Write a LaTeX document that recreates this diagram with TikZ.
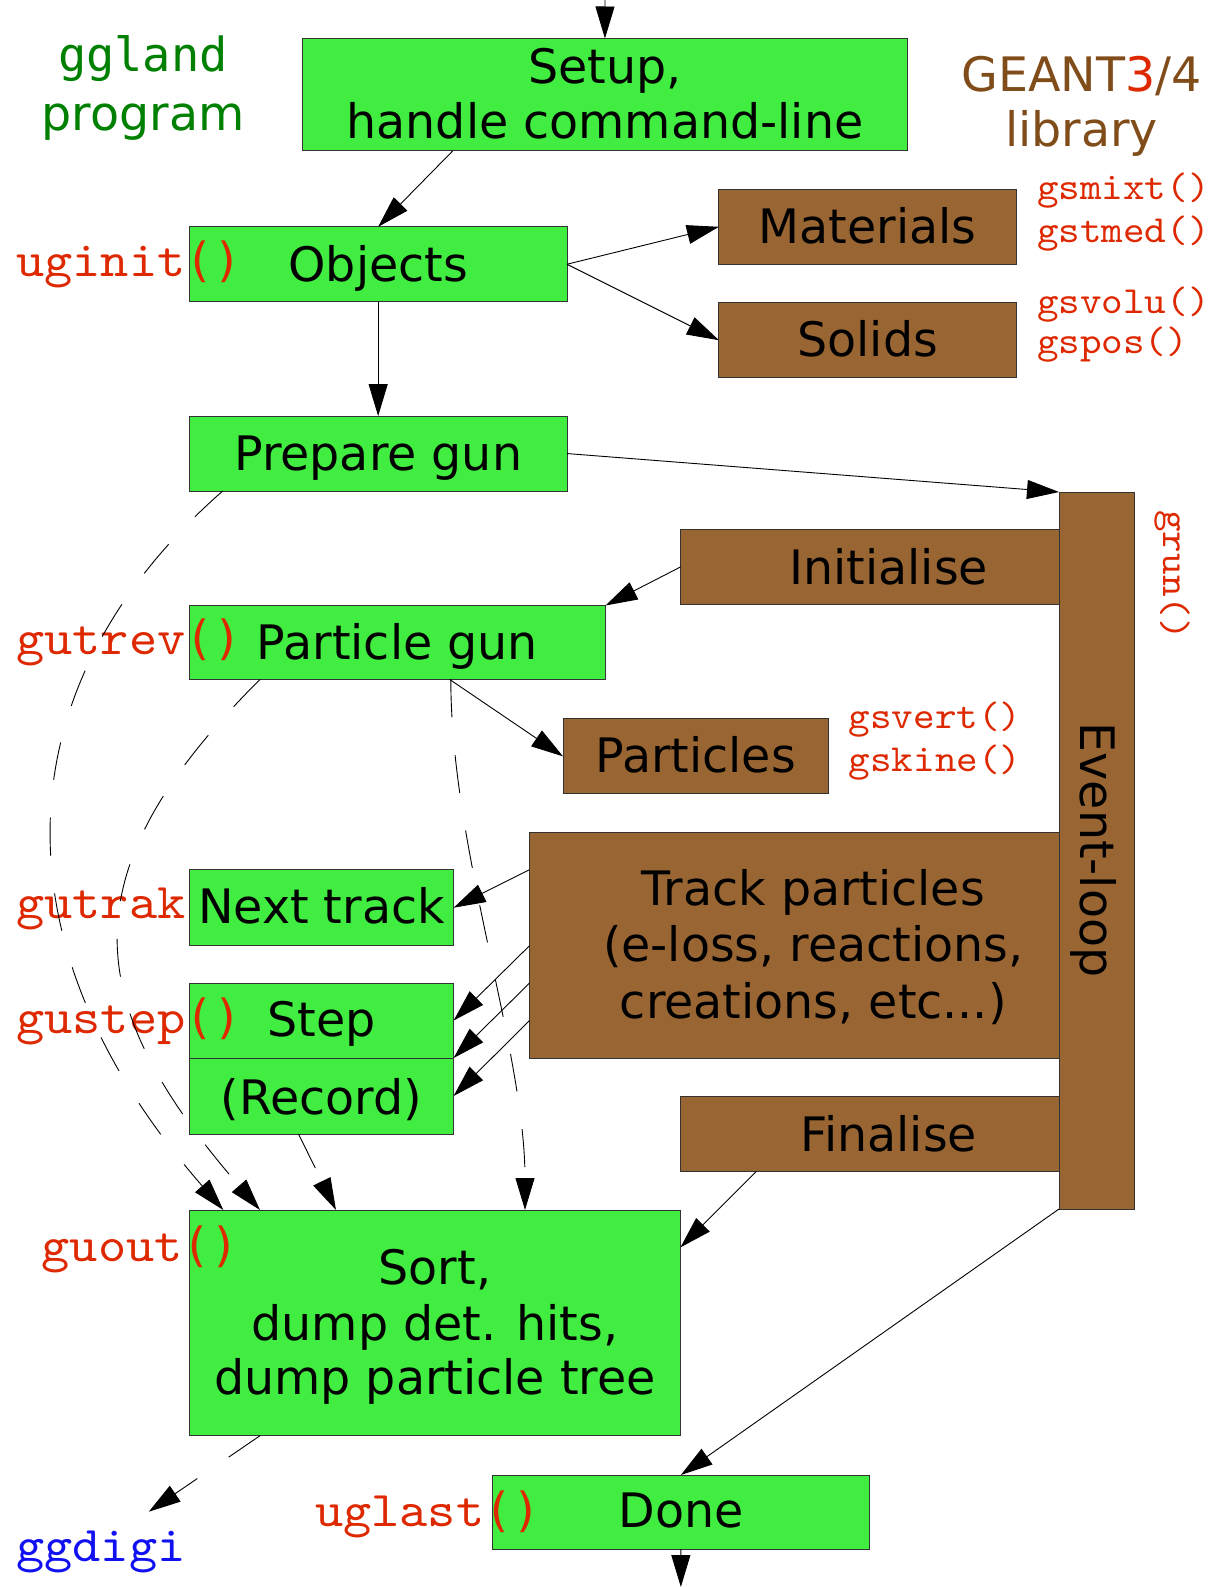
\documentclass[tikz,border=0pt]{standalone}
\usepackage{fontspec}
\usetikzlibrary{arrows.meta,calc}
\newfontfamily\sansf{DejaVu Sans}
\newfontfamily\smono{DejaVu Sans Mono}
\newfontfamily\cmono{lmmono10-regular.otf}[FakeStretch=1.074]
\definecolor{boxgreen}{RGB}{64,237,64}
\definecolor{boxbrown}{RGB}{153,102,51}
\definecolor{fnred}{RGB}{221,40,0}
\definecolor{prggreen}{RGB}{0,128,0}
\definecolor{libbrown}{RGB}{128,77,26}
\definecolor{digiblue}{RGB}{16,16,240}
\newcommand\mkbox[6]{\node[#1, minimum width={#5pt-#3pt}, minimum height={#6pt-#4pt}] (#2) at ({(#3+#5)/2},{(#4+#6)/2}) {};}
\tikzset{
  boxbase/.style={draw=black!80, line width=1pt, inner sep=0pt, outer sep=0pt, rectangle},
  gbox/.style={boxbase, fill=boxgreen},
  bbox/.style={boxbase, fill=boxbrown},
  txt/.style={inner sep=0pt, font=\sansf\fontsize{47.5}{56}\selectfont},
  fn/.style={inner sep=0pt, font=\cmono\fontsize{50}{56}\selectfont, text=fnred},
  fns/.style={inner sep=0pt, font=\cmono\fontsize{38.3}{44}\selectfont, text=fnred},
  arr/.style={-{Triangle[length=32pt,width=19pt]}, line width=0.9pt},
  darr/.style={arr, dash pattern=on 38pt off 38pt},
}
\begin{document}
\begin{tikzpicture}[x=1pt,y=-1pt]
\useasboundingbox (0,0) rectangle (1218,1587);
% boxes
\mkbox{gbox}{setup}{302.7}{38.5}{907.2}{150.9}
\mkbox{gbox}{objects}{189.3}{226.8}{567}{301.7}
\mkbox{bbox}{materials}{718.9}{189.3}{1016.5}{264.3}
\mkbox{bbox}{solids}{718.9}{302.7}{1016.5}{377.7}
\mkbox{gbox}{prep}{189.3}{416.1}{567}{491}
\mkbox{bbox}{init}{680.4}{529.5}{1097}{604.5}
\mkbox{gbox}{pgun}{189.3}{605.5}{605.5}{679.4}
\mkbox{bbox}{particles}{563}{718.9}{828.2}{793.8}
\mkbox{bbox}{track}{529.5}{832.3}{1097}{1058}
\mkbox{gbox}{next}{189.3}{869.7}{453.6}{945.7}
\mkbox{gbox}{step}{189.3}{983.1}{453.6}{1058}
\mkbox{gbox}{record}{189.3}{1058}{453.6}{1134}
\mkbox{bbox}{final}{680.4}{1096.5}{1097}{1171.5}
\mkbox{bbox}{event}{1059}{492}{1134}{1209}
\mkbox{gbox}{sort}{189.3}{1210}{680.4}{1435.7}
\mkbox{gbox}{done}{492}{1475}{869.7}{1549}
% box texts
\node[txt, anchor=base] (tsetup1) at (605,83.3) {Setup,};
\node[txt, anchor=base] (tsetup2) at (605,138.3) {handle command-line};
\node[txt, anchor=base] (tobj) at (378.2,281.7) {Objects};
\node[txt, anchor=base] (tmat) at (867.7,243.3) {Materials};
\node[txt, anchor=base] (tsol) at (867.7,356.7) {Solids};
\node[txt, anchor=base] (tprep) at (378.2,470.5) {Prepare gun};
\node[txt, anchor=base] (tinit) at (888.7,584) {Initialise};
\node[txt, anchor=base] (tpgun) at (397.4,659.3) {Particle gun};
\node[txt, anchor=base] (tpart) at (695.6,772.7) {Particles};
\node[txt, anchor=base] (ttrack1) at (813.3,905) {Track particles};
\node[txt, anchor=base] (ttrack2) at (813.3,961.7) {(e-loss, reactions,};
\node[txt, anchor=base] (ttrack3) at (813.3,1018.4) {creations, etc...)};
\node[txt, anchor=base] (tnext) at (321.5,923.3) {Next track};
\node[txt, anchor=base] (tstep) at (321.5,1036) {Step};
\node[txt, anchor=base] (trec) at (321.5,1114) {(Record)};
\node[txt, anchor=base] (tfin) at (888.7,1151) {Finalise};
\node[txt, anchor=base] (tsort1) at (434.9,1284) {Sort,};
\node[txt, anchor=base] (tsort2) at (434.9,1340) {dump det. hits,};
\node[txt, anchor=base] (tsort3) at (434.9,1394) {dump particle tree};
\node[txt, anchor=base] (tdone) at (680.9,1527.7) {Done};
\node[txt, anchor=base, rotate=-90] (tevent) at (1080,850) {Event-loop};
% side labels
\node[inner sep=0pt, font=\smono\fontsize{47}{56}\selectfont, text=prggreen, anchor=base] (lggland) at (143,71) {ggland};
\node[txt, text=prggreen, anchor=base] (lprog) at (143,130) {program};
\node[txt, text=libbrown, anchor=base] (lgeant) at (1081.5,91.7) {GEANT{\color{fnred}3}/4};
\node[txt, text=libbrown, anchor=base] (llib) at (1081.5,146.7) {library};
\node[fn, anchor=base west] (luginit) at (16.2,276.7) {uginit{\smono\fontsize{47}{56}\selectfont()}};
\node[fn, anchor=base west] (lgutrev) at (16.2,654) {gutrev{\smono\fontsize{47}{56}\selectfont()}};
\node[fn, anchor=base west] (lgutrak) at (16.2,918.3) {gutrak};
\node[fn, anchor=base west] (lgustep) at (16.2,1033.3) {gustep{\smono\fontsize{47}{56}\selectfont()}};
\node[fn, anchor=base west] (lguout) at (41.5,1261) {guout{\smono\fontsize{47}{56}\selectfont()}};
\node[fn, anchor=base west] (luglast) at (315,1526) {uglast{\smono\fontsize{47}{56}\selectfont()}};
\node[fn, anchor=base west, text=digiblue] (lggdigi) at (16.2,1561.8) {ggdigi};
\node[fns, anchor=base west] (lgsmixt) at (1036.8,199.3) {gsmixt()};
\node[fns, anchor=base west] (lgstmed) at (1036.8,242.7) {gstmed()};
\node[fns, anchor=base west] (lgsvolu) at (1036.8,313.3) {gsvolu()};
\node[fns, anchor=base west] (lgspos) at (1036.8,353.3) {gspos()};
\node[fns, anchor=base west] (lgsvert) at (848.5,728.3) {gsvert()};
\node[fns, anchor=base west] (lgskine) at (848.5,771.7) {gskine()};
\node[fns, anchor=base, rotate=-90] (lgrun) at (1163,575) {grun()};
% free ends
\coordinate (topin) at (605,0);
\coordinate (botout) at (680.85,1587);
\coordinate (gdigi) at (148.8,1511.7);
% solid connectors
\draw[arr] (topin) -- (setup.north);
\draw[arr] ([xshift=150pt]setup.south west) -- (objects.north);
\draw[arr] (objects.east) -- (materials.west);
\draw[arr] (objects.east) -- (solids.west);
\draw[arr] (objects.south) -- (prep.north);
\draw[arr] (prep.east) -- (event.north west);
\draw[arr] (init.west) -- (pgun.north east);
\draw[arr] ([xshift=260.3pt]pgun.south west) -- (particles.west);
\draw[arr] ([yshift=-37.4pt]track.north west) -- (next.east);
\draw[arr] ([yshift=-113.4pt]track.north west) -- (step.east);
\draw[arr] ([yshift=-150.8pt]track.north west) -- (step.south east);
\draw[arr] ([yshift=-188.3pt]track.north west) -- (record.east);
\draw[arr] ([xshift=75.9pt]final.south west) -- ([yshift=-37.4pt]sort.north east);
\draw[arr] (event.south west) -- (done.north);
\draw[arr] (done.south) -- (botout);
% dashed connectors
\draw[darr] ([xshift=33.4pt]prep.south west) .. controls (-4,690) and (-4,950) .. ([xshift=34pt]sort.north west);
\draw[darr] ([xshift=70.7pt]pgun.south west) .. controls (68,871) and (78,1000) .. ([xshift=70.7pt]sort.north west);
\draw[darr] ([xshift=261.5pt]pgun.south west) .. controls (451,850) and (525,1050) .. ([xshift=335.7pt]sort.north west);
\draw[darr] ([xshift=109.2pt]record.south west) -- ([xshift=146.7pt]sort.north west);
\draw[darr] ([xshift=70.7pt]sort.south west) -- (gdigi);
\end{tikzpicture}
\end{document}
